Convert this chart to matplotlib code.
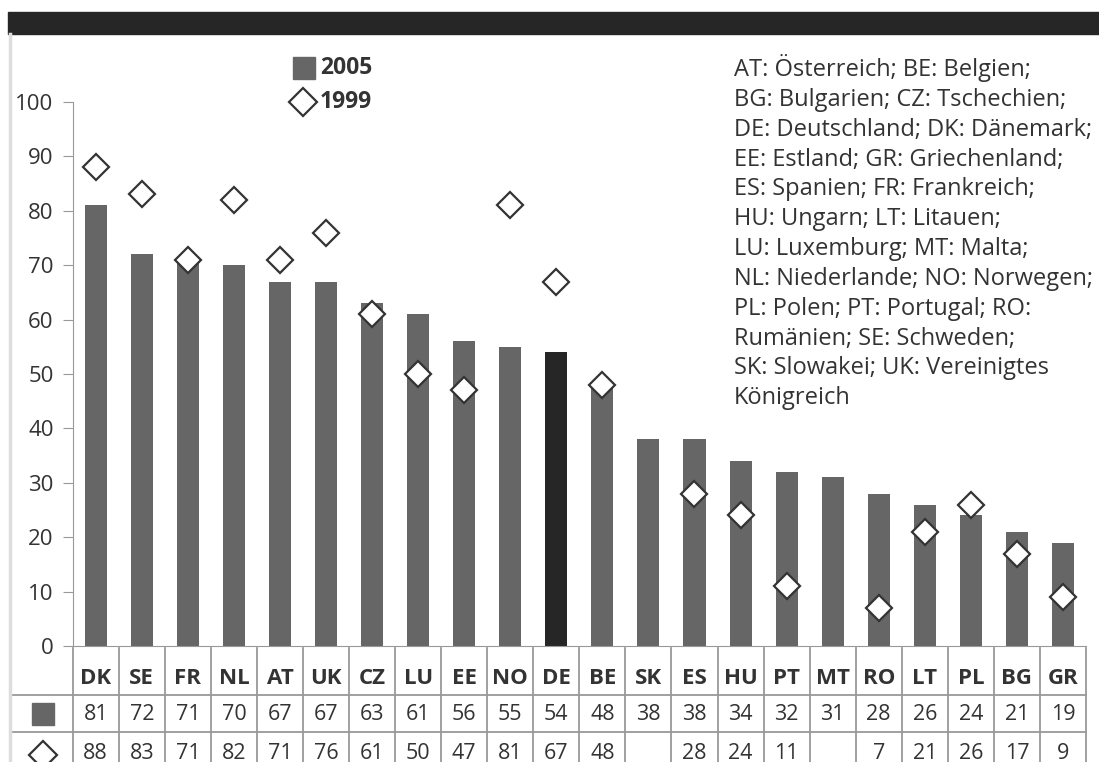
import matplotlib.pyplot as plt
import numpy as np

plt.rcParams['font.family'] = ['Open Sans', 'DejaVu Sans']

countries = ['DK', 'SE', 'FR', 'NL', 'AT', 'UK', 'CZ', 'LU', 'EE', 'NO', 'DE',
             'BE', 'SK', 'ES', 'HU', 'PT', 'MT', 'RO', 'LT', 'PL', 'BG', 'GR']
vals_2005 = [81, 72, 71, 70, 67, 67, 63, 61, 56, 55, 54,
             48, 38, 38, 34, 32, 31, 28, 26, 24, 21, 19]
# None = no value for 1999
vals_1999 = [88, 83, 71, 82, 71, 76, 61, 50, 47, 81, 67,
             48, None, 28, 24, 11, None, 7, 21, 26, 17, 9]
highlight = 'DE'
yticks = [0, 10, 20, 30, 40, 50, 60, 70, 80, 90, 100]

key_text = ("AT: Österreich; BE: Belgien;\n"
            "BG: Bulgarien; CZ: Tschechien;\n"
            "DE: Deutschland; DK: Dänemark;\n"
            "EE: Estland; GR: Griechenland;\n"
            "ES: Spanien; FR: Frankreich;\n"
            "HU: Ungarn; LT: Litauen;\n"
            "LU: Luxemburg; MT: Malta;\n"
            "NL: Niederlande; NO: Norwegen;\n"
            "PL: Polen; PT: Portugal; RO:\n"
            "Rumänien; SE: Schweden;\n"
            "SK: Slowakei; UK: Vereinigtes\n"
            "Königreich")

W, H = 1099, 762
BAR = '#666666'
DARK = '#262626'
GRID = '#999999'
TXT = '#333333'

fig = plt.figure(figsize=(W / 100, H / 100), dpi=100)

# dark header strip and light frame line on the left
fig.patches.append(plt.Rectangle((8 / W, 1 - 34 / H), 1 - 8 / W, 22 / H,
                                 transform=fig.transFigure, color=DARK, zorder=0))
fig.lines.append(plt.Line2D([10 / W, 10 / W], [0, 1 - 34 / H],
                            transform=fig.transFigure, color='#dddddd', lw=2.5))

x0, x1 = 72.7, 1086
ax = fig.add_axes([x0 / W, 1 - 646 / H, (x1 - x0) / W, (646 - 102) / H])
x = np.arange(len(countries))
colors = [DARK if c == highlight else BAR for c in countries]
ax.bar(x, vals_2005, width=0.48, color=colors, zorder=2)

xs = [i for i, v in enumerate(vals_1999) if v is not None]
ys = [v for v in vals_1999 if v is not None]
ax.plot(xs, ys, linestyle='none', marker='D', ms=13, mfc='white',
        mec='#333333', mew=1.6, clip_on=False, zorder=3)

ax.set_xlim(-0.5, len(countries) - 0.5)
ax.set_ylim(0, 100)
ax.set_yticks(yticks)
ax.set_xticks([])
for s in ['top', 'right']:
    ax.spines[s].set_visible(False)
ax.spines['left'].set_color(GRID)
ax.spines['bottom'].set_color(GRID)
ax.tick_params(axis='y', direction='out', length=7.2, color=GRID,
               labelsize=16, labelcolor=TXT, pad=6.5)

# legend above the plot
leg_ax = fig.add_axes([0, 0, 1, 1], facecolor='none')
leg_ax.set_axis_off()
leg_ax.set_xlim(0, W)
leg_ax.set_ylim(H, 0)
leg_ax.plot([303.5], [68], marker='s', ms=16.5, color=BAR, linestyle='none')
leg_ax.plot([303], [102], marker='D', ms=14, mfc='white', mec='#333333',
            mew=1.6, linestyle='none')
leg_ax.text(320, 68, '2005', fontsize=16.5, fontweight='bold', color=TXT, va='center')
leg_ax.text(320, 102, '1999', fontsize=16.5, fontweight='bold', color=TXT, va='center')

fig.text(734 / W, 1 - 54 / H, key_text, fontsize=17, color=TXT, va='top',
         ha='left', linespacing=1.325)

# data table below the axis, sharing the category scale
row_h = 37
tab = fig.add_axes([x0 / W, 0, (x1 - x0) / W, (H - 646) / H], sharex=ax)
tab.set_ylim((H - 646) / row_h, 0)
tab.set_axis_off()
r_head = (695 - 646) / row_h
r1 = r_head + 1
px_per_cat = (x1 - x0) / len(countries)
left_x = -0.5 - (x0 - 10) / px_per_cat

for y in [r_head, r1]:
    tab.plot([left_x, len(countries) - 0.5], [y, y], color=GRID, lw=1.3, clip_on=False)
for k in range(len(countries) + 1):
    tab.plot([k - 0.5, k - 0.5], [0.05, r1 + 2], color=GRID, lw=1.3, clip_on=False)

for i, c in enumerate(countries):
    tab.text(i, 0.87, c, ha='center', va='center', fontsize=16,
             fontweight='bold', color=TXT)
    tab.text(i, r_head + 0.54, str(vals_2005[i]), ha='center', va='center',
             fontsize=15.5, color=TXT)
    if vals_1999[i] is not None:
        tab.text(i, r1 + 0.58, str(vals_1999[i]), ha='center', va='center',
                 fontsize=15.5, color=TXT)

sym_x = -0.5 - 30 / px_per_cat
tab.plot([sym_x], [r_head + 0.5], marker='s', ms=16.5, color=BAR,
         linestyle='none', clip_on=False)
tab.plot([sym_x], [r1 + 0.62], marker='D', ms=14, mfc='white', mec='#333333',
         mew=1.6, linestyle='none', clip_on=False)

fig.savefig('out.png', dpi=100)
